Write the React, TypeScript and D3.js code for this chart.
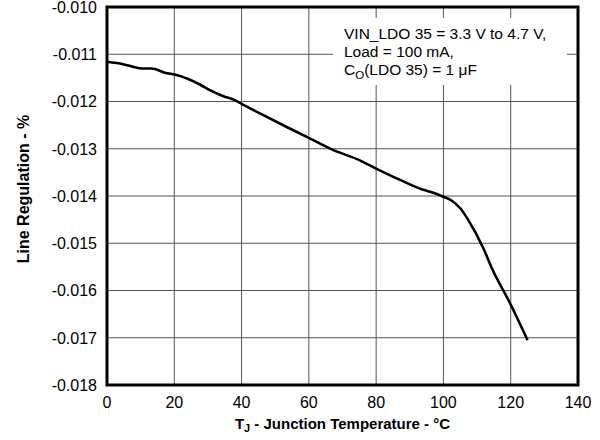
import React from "react";
import * as d3 from "d3";

const temps = [0, 4.8, 10.3, 13.3, 17.2, 20.7, 27.6, 30.6, 34.6, 38, 40, 46.5, 53.4, 59.4, 67.3, 75, 80, 87.1, 94, 97, 99.8, 102.5, 105, 107.4, 111.9, 114.4, 119.8, 125];
const regulation = [-0.01116, -0.01121, -0.0113, -0.0113, -0.01139, -0.01144, -0.01164, -0.01176, -0.01189, -0.01197, -0.01205, -0.01229, -0.01254, -0.01275, -0.01303, -0.01324, -0.01342, -0.01366, -0.01387, -0.01393, -0.01401, -0.0141, -0.01426, -0.01451, -0.01511, -0.01553, -0.01627, -0.01705];
const xTicks = [0, 20, 40, 60, 80, 100, 120, 140];
const yTicks = [-0.01, -0.011, -0.012, -0.013, -0.014, -0.015, -0.016, -0.017, -0.018];
const noteLines = ["VIN_LDO 35 = 3.3 V to 4.7 V,", "Load = 100 mA,"];

const W = 600, H = 440;
const L = 107, R = 578, T = 7, B = 385;

export default function App() {
  const x = d3.scaleLinear().domain([0, 140]).range([L, R]);
  const y = d3.scaleLinear().domain([-0.01, -0.018]).range([T, B]);
  const pts = temps.map((t, i) => [t, regulation[i]] as [number, number]);
  const line = d3.line<[number, number]>().x(d => x(d[0])).y(d => y(d[1])).curve(d3.curveMonotoneX);
  const font = "Liberation Sans, Arial, sans-serif";
  return (
    <svg width={W} height={H} style={{ position: "absolute", left: 0, top: 0 }} fontFamily={font}>
      <rect width={W} height={H} fill="#fff" />
      {xTicks.slice(1, -1).map(t => (
        <line key={"gx" + t} x1={x(t)} x2={x(t)} y1={T} y2={B} stroke="#555" strokeWidth={1} />
      ))}
      {yTicks.slice(1, -1).map(t => (
        <line key={"gy" + t} x1={L} x2={R} y1={y(t)} y2={y(t)} stroke="#555" strokeWidth={1} />
      ))}
      <rect x={333} y={18} width={234} height={67} fill="#fff" />
      <g fontSize={15.5} fill="#000">
        <text x={344} y={38.5}>{noteLines[0]}</text>
        <text x={344} y={57}>{noteLines[1]}</text>
        <text x={344} y={75}>C<tspan fontSize={11.5} dy={4}>O</tspan><tspan dy={-4}>(LDO 35) = 1 μF</tspan></text>
      </g>
      <path d={line(pts) || ""} fill="none" stroke="#000" strokeWidth={2.6} strokeLinejoin="round" />
      <rect x={L} y={T} width={R - L} height={B - T} fill="none" stroke="#000" strokeWidth={3} />
      {yTicks.map(t => (
        <text key={"ty" + t} x={L - 10} y={y(t)} dy="0.36em" textAnchor="end" fontSize={16}>{t.toFixed(3)}</text>
      ))}
      {xTicks.map(t => (
        <text key={"tx" + t} x={x(t)} y={B + 23} textAnchor="middle" fontSize={16}>{t}</text>
      ))}
      <text x={(L + R) / 2} y={429} textAnchor="middle" fontSize={15} fontWeight="bold">
        T<tspan fontSize={11} dy={3}>J</tspan><tspan dy={-3}> - Junction Temperature - °C</tspan>
      </text>
      <text transform={`translate(29,189) rotate(-90)`} textAnchor="middle" fontSize={16} fontWeight="bold">
        Line Regulation - %
      </text>
    </svg>
  );
}
